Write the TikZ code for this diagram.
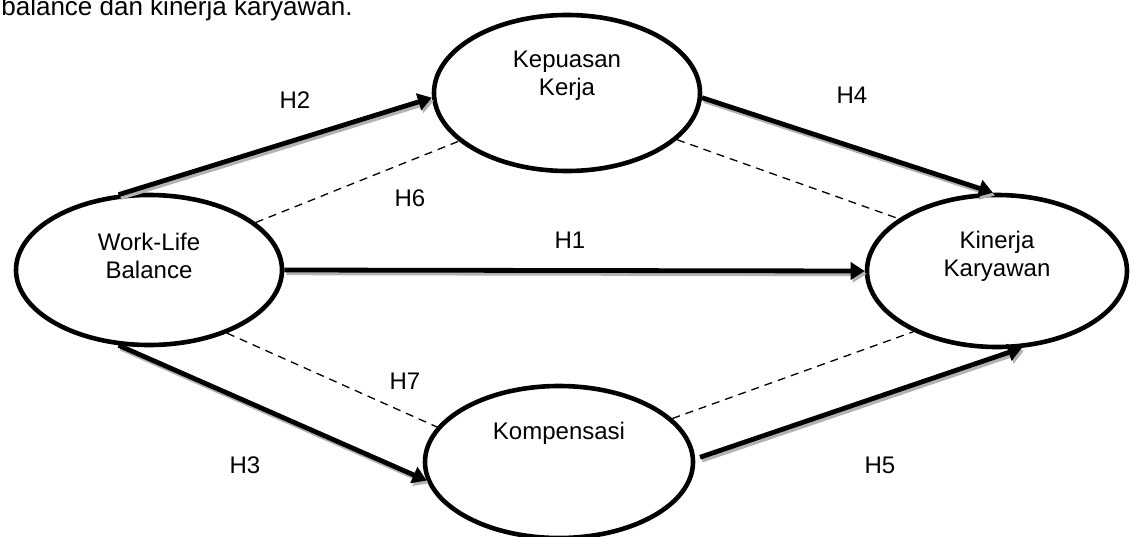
\documentclass[tikz,border=0pt]{standalone}
\usepackage{fontspec}
\setmainfont{Liberation Sans}
\usetikzlibrary{shapes.geometric,arrows.meta}

\tikzset{
    latent/.style={ellipse, draw, line width=2.3pt, inner sep=0pt},
    vartext/.style={font=\fontsize{12}{14}\selectfont, align=center},
    hlabel/.style={font=\fontsize{12}{14}\selectfont},
    path/.style={line width=2.4pt, -{Triangle[length=7pt,width=8.5pt]},
        preaction={draw, line width=2.4pt, gray!60, -{Triangle[length=7pt,width=8.5pt]},
            transform canvas={shift={(1pt,-1.4pt)}}}},
    mediate/.style={line width=0.65pt, dash pattern=on 4pt off 3pt}
}

\begin{document}
\begin{tikzpicture}[x=0.5pt, y=-0.5pt]
        % Page frame, same proportions as the scanned figure
        \useasboundingbox (0,0) rectangle (1130,536);

        % Tail of the sentence above the figure
        \node[anchor=base west, inner sep=0pt, font=\fontsize{13}{15}\selectfont] (caption) at (1,15) {balance dan kinerja karyawan.};

        % The four constructs
        \node[latent, minimum width=133pt, minimum height=75pt,
            label={[vartext, yshift=7pt]center:Work-Life\\Balance}] (wlb) at (149,270) {};
        \node[latent, minimum width=133pt, minimum height=78pt,
            label={[vartext, yshift=8.5pt]center:Kepuasan\\Kerja}] (kep) at (567,93) {};
        \node[latent, minimum width=130pt, minimum height=76pt,
            label={[vartext, yshift=7.5pt]center:Kinerja\\Karyawan}] (kin) at (997,271) {};
        \node[latent, minimum width=134pt, minimum height=76pt,
            label={[vartext, yshift=14.5pt]center:Kompensasi}] (komp) at (559,462) {};

        % Direct paths
        \draw[path] (wlb.112) -- (kep.182);
        \draw[path] (kep.358) -- (kin.93);
        \draw[path] (wlb.east) -- (kin.west);
        \draw[path] (wlb.248) -- (komp.188);
        \draw[path] ([xshift=2.5pt]komp.2) -- (kin.288);

        % Mediation paths
        \draw[mediate] (wlb.24) -- (kep.204);
        \draw[mediate] (kep.337) -- (kin.152);
        \draw[mediate] (wlb.321) -- (komp.164);
        \draw[mediate] (komp.21) -- (kin.216);

        % Hypothesis labels
        \node[hlabel] (h1) at (570,240) {H1};
        \node[hlabel] (h2) at (295,100) {H2};
        \node[hlabel] (h3) at (245,465) {H3};
        \node[hlabel] (h4) at (852,95) {H4};
        \node[hlabel] (h5) at (880,465) {H5};
        \node[hlabel] (h6) at (410,198) {H6};
        \node[hlabel] (h7) at (405,381) {H7};
    \end{tikzpicture}
\end{document}
